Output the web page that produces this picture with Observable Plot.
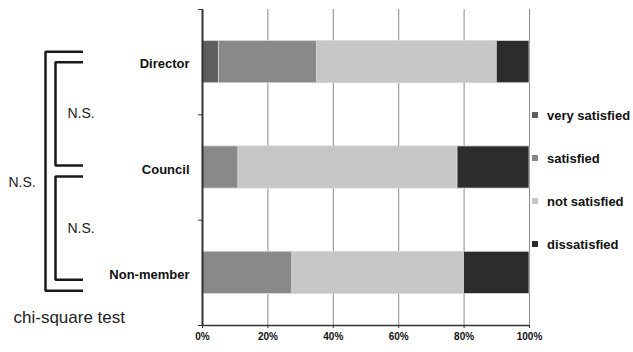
<!DOCTYPE html>
<html>
<head>
<meta charset="utf-8">
<script src="https://cdn.jsdelivr.net/npm/d3@7"></script>
<script src="https://cdn.jsdelivr.net/npm/@observablehq/plot@0.6"></script>
<style>
  body { margin: 0; background: #fff; font-family: "Liberation Sans", Arial, sans-serif; }
  #chart { position: relative; width: 633px; height: 352px; overflow: hidden; }
  #chart svg { position: absolute; top: 0; overflow: visible; }
  .legend { position: absolute; left: 532px; top: 108px; }
  .legend div { display: flex; align-items: center; height: 14px; margin-bottom: 29px;
                font-size: 13px; font-weight: bold; color: #111; white-space: nowrap; }
  .legend span { display: inline-block; width: 6px; height: 6px; margin-right: 9px; }
</style>
</head>
<body>
<div id="chart"></div>
<script>
// Satisfaction by membership group (% of respondents)
const groups = ["Director", "Council", "Non-member"];
const levels = ["very satisfied", "satisfied", "not satisfied", "dissatisfied"];
const levelColors = ["#5e5e5e", "#898989", "#c6c6c6", "#2c2c2c"];
const director = [5, 30, 55, 10];
const council = [0, 11, 67, 22];
const nonMember = [0, 27.5, 52.5, 20];
const xTicks = [0, 20, 40, 60, 80, 100];

// Pairwise chi-square comparisons between groups
const comparisons = [
  {a: "Director", b: "Council", result: "N.S."},
  {a: "Council", b: "Non-member", result: "N.S."},
  {a: "Director", b: "Non-member", result: "N.S."}
];
const testLabel = "chi-square test";

const seriesByGroup = [director, council, nonMember];

// Stacked segments: each group occupies one unit band on y, bar spans 40% of it
const rows = [];
groups.forEach((g, i) => {
  let acc = 0;
  seriesByGroup[i].forEach((v, j) => {
    rows.push({group: g, level: levels[j], x1: acc, x2: acc + v, y1: i + 0.3, y2: i + 0.7});
    acc += v;
  });
});

const font = "'Liberation Sans', Arial, sans-serif";
const H = 352, mTop = 9, mBottom = 27;
const panelW = 104;

// Main stacked bar chart
const main = Plot.plot({
  width: 435, height: H,
  marginLeft: 98, marginRight: 10, marginTop: mTop, marginBottom: mBottom,
  style: {fontFamily: font, background: "transparent", overflow: "visible"},
  x: {domain: [0, 100]},
  y: {domain: [3, 0]},
  color: {domain: levels, range: levelColors},
  marks: [
    Plot.ruleX(xTicks.filter(d => d > 0), {y1: 0, y2: 3, stroke: "#8a8a8a", strokeWidth: 1}),
    Plot.rectX(rows, {x1: "x1", x2: "x2", y1: "y1", y2: "y2", fill: "level",
                      stroke: "#d6d6d6", strokeWidth: 0.8}),
    Plot.axisY({ticks: [0, 1, 2, 3], tickFormat: () => "", tickSize: 4, stroke: "#333", label: null}),
    Plot.axisX({ticks: xTicks, tickFormat: d => d + "%", tickSize: 3, tickPadding: 4,
                fontSize: 10, fontWeight: "bold", fill: "#111", stroke: "#333", label: null}),
    Plot.ruleY([3], {x1: 0, x2: 100, stroke: "#333", strokeWidth: 1.5}),
    Plot.ruleX([0], {y1: 0, y2: 3, stroke: "#333", strokeWidth: 2}),
    Plot.text(groups, {x: 0, y: (d, i) => i + 0.5, text: d => d, textAnchor: "end",
                       dx: -13, dy: 2, fontSize: 13, fontWeight: "bold", fill: "#111"})
  ]
});

// Significance brackets: x is nesting depth (0 = outer, 1 = inner)
const idx = g => groups.indexOf(g);
const armEnd = 3.75;
const brackets = comparisons.map((c, k) => {
  const ia = idx(c.a), ib = idx(c.b);
  const outer = ib - ia > 1;
  const top = outer ? ia + 0.5 - 0.1 : ia + 0.5 + 0.085 * ia;
  const bottom = outer ? ib + 0.5 + 0.17 : ib + 0.5 - 0.02 + 0.085 * (ib - 1);
  const depth = outer ? 0 : 1;
  return {k, outer, top, bottom, depth, result: c.result,
          labelX: outer ? -3.7 : 2.2,
          labelY: (top + bottom) / 2 + (outer ? 0.11 : 0)};
});
const bracketPts = brackets.flatMap(b => [
  {k: b.k, x: armEnd, y: b.top},
  {k: b.k, x: b.depth, y: b.top},
  {k: b.k, x: b.depth, y: b.bottom},
  {k: b.k, x: armEnd, y: b.bottom}
]);

const side = Plot.plot({
  width: panelW, height: H,
  marginLeft: 0, marginRight: 0, marginTop: mTop, marginBottom: mBottom,
  style: {fontFamily: font, background: "transparent", overflow: "visible"},
  x: {domain: [0, 1], range: [45, 55], axis: null},
  y: {domain: [3, 0], axis: null},
  marks: [
    Plot.line(bracketPts, {x: "x", y: "y", z: "k", stroke: "#1a1a1a", strokeWidth: 2.5,
                           strokeLinejoin: "miter", strokeLinecap: "butt", curve: "linear"}),
    Plot.text(brackets, {x: "labelX", y: "labelY", text: "result", textAnchor: "start",
                         fontSize: 14, fill: "#222"}),
    Plot.text([testLabel], {frameAnchor: "bottom-left", text: d => d, textAnchor: "start",
                            dx: 13, dy: -3, fontSize: 17, fill: "#222"})
  ]
});

const chart = document.getElementById("chart");
side.style.left = "0px";
main.style.left = panelW + "px";
chart.append(side, main);

// Legend
const legend = document.createElement("div");
legend.className = "legend";
levels.forEach((l, j) => {
  const item = document.createElement("div");
  const sw = document.createElement("span");
  sw.style.background = levelColors[j];
  item.append(sw, document.createTextNode(l));
  legend.append(item);
});
chart.append(legend);
</script>
</body>
</html>
